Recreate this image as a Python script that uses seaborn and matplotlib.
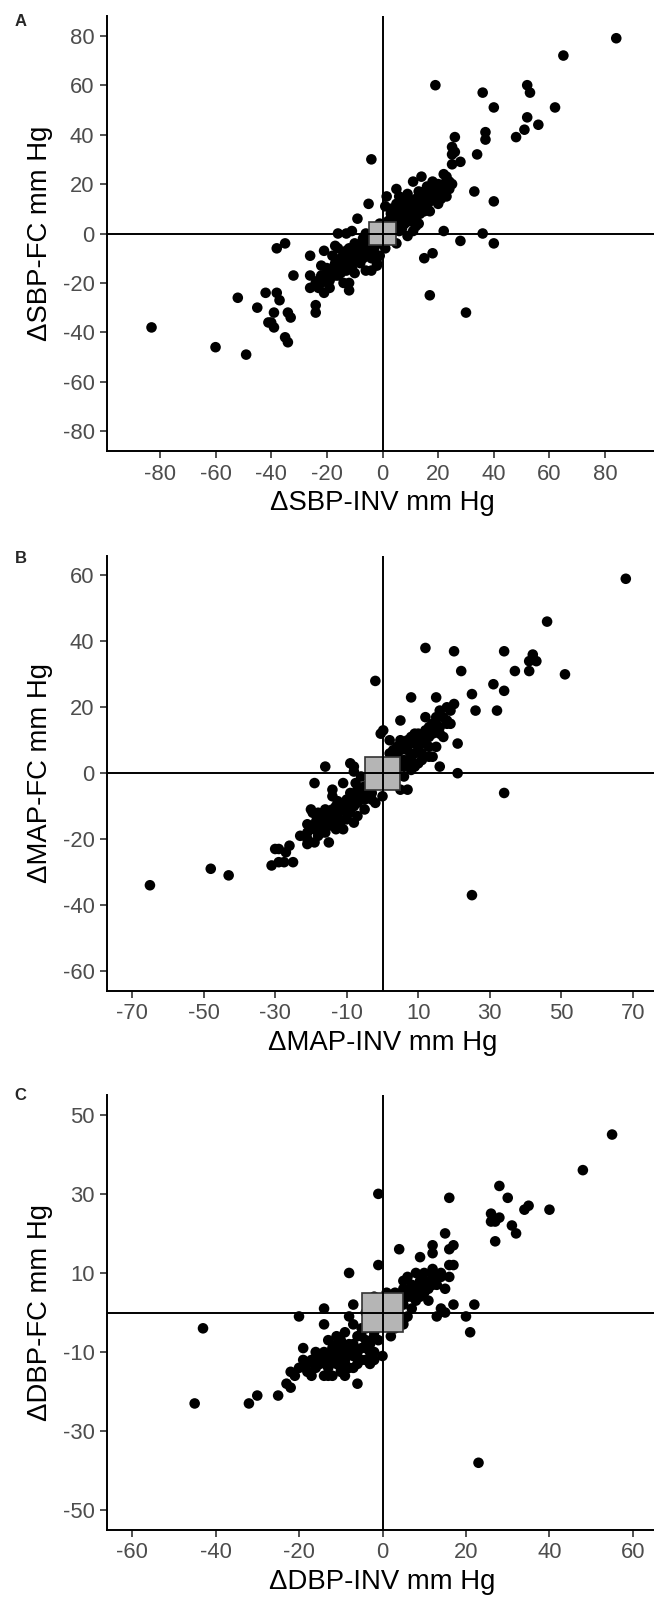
import numpy as np
import pandas as pd
import matplotlib
matplotlib.use("Agg")
import matplotlib.pyplot as plt
from matplotlib.patches import Rectangle
import seaborn as sns

# ---------------- data ----------------
sbp_inv = [84, 65, 19, 52, 53, 36, 40, 62, 52, 56, 51, 48, 37, 37, 26, 25, 26, 25, 34, -4, 28, 25, 22, 33, 40,
           22, 36, 40, 28, 18, 15, 17, 30, -5, -9, -16, -38, -35, -26, -21, -32, -26, -26, -22, -21, -24, -24,
           -14, -12, -12, -52, -42, -38, -37, -45, -39, -34, -33, -41, -39, -40, -35, -34, -83, -60, -49,
           14, 11, 18, 22, 23, 5, 1.5, 9, 13, 16, 19.5, 16.5, 12, 5, 1, 10, 6, 4, 13.5, 12, 9, 5, 1, -11, -13,
           -7, -6, -17, -13, -10, -9, -6, -4, -2, -6, -14, -16, -20, -20, -23, -19, -13, -2,
           2, 3, 6, 7, 8, 9, 10, 11, 12, 14, 15, 16, 17, 18, 19, 20, 21, 20, 23, 24, 15, 12, 10, 7, 6, 3, 4, 7,
           -1, -3, -4, -8, -9, -11, -12, -14, -15, -16, -18, -17, -19, -21, -22, -18, -15, -11, -8, -7, -5, -3,
           -10, -4, 13, 16, 17, 21, 25, 23, 5, 8, 3, 2, -1,
           0, 1, 3, 5, 6, 8, 9, 10, 11, 13, 14, 15, 17, 18, 19, 20, 21, 22, 24, -2, -3, -5, -6, -7, -8, -9,
           -10, -11, -12, -13, -14, -15, -16, -17, -18, -19, -20, -22, -23, -24, -4, -1, 2, 6, 11, 8]
sbp_fc = [79, 72, 60, 60, 57, 57, 51, 51, 47, 44, 42, 39, 41, 38, 39, 35, 33, 32, 32, 30, 29, 28, 24, 17, 13,
          1, 0, -4, -3, -8, -10, -25, -32, 12, 6, 0, -6, -4, -9, -7, -17, -17, -22, -13, -24, -29, -32,
          -20, -23, -20, -26, -24, -24, -27, -30, -32, -32, -34, -36, -38, -36, -42, -44, -38, -46, -49,
          23, 21, 21, 20, 18, 18, 15, 16, 17, 19, 14, 13, 14, 12, 11, 10, 8, 10, 8, 3, -1, -4, -6, 1, 0,
          -2, 0, -5, -7, -4, -8, -8, -10, -12, -15, -11, -14, -14, -19, -19, -22, -13, -13,
          5, 3, 4, 6, 9, 7, 5, 8, 11, 11, 9, 15, 16, 17, 18, 16, 19, 12, 15, 21, 17, 7, 13, 12, 15, 8, 1, 2,
          4, 2, -3, -5, -11, -9, -6, -8, -10, -6, -9, -12, -15, -17, -20, -17, -16, -14, -12, -10, -6, -8,
          -16, -15, 4, 11, 9, 14, 20, 23, 7, 13, 10, -2, -4,
          3, 2, 6, 3, 9, 4, 11, 9, 13, 12, 15, 14, 13, 14, 16, 20, 17, 18, 18, -4, -6, -3, -4, -7, -9, -7,
          -11, -12, -10, -15, -13, -14, -17, -17, -14, -19, -17, -17, -22, -20, -9, -9, -1, 1, 1, 6]

map_inv = [68, 46, 12, 20, 34, 42, 41, 43, 41, 37, 22, 51, 31, 34, 25, -2, 8, 15, 26, 32, 20, 18, 16, 5, 15,
           12, 19, 18, 14, 14, 15, 12, 13, 16, 21, 15, 14, 13, 16, 21, 34, 25, -0.5, 0.2, 2, 5, 3, 9, 10, 9,
           7, 10, 11, 8, 10, 8, 7, 5, 0, -2, -5, -16, -19, -8, -9, -8, -14, -14, -11, -7.5, -7, -8, -9.5,
           -11, -12.5, -14, -16, -16.5, -20, -19.5, -18.5, -21, -18, -14, -13, -11, -16, -21, -21, -21, -15,
           -11.5, -12.5, -30, -29, -27, -26, -31, -29, -27.5, -25, -48, -43, -65,
           -10, -9, -6, -4, -3, -6, -12, -13, -10, -17, -15, -19, -5, -3, -1, 2, 4, 6, 6, 7, 11, 12, 13, 11,
           9, 4, 3, 6, 17, 18, 17, 19, -7, -8, -10, -18, -23, -16,
           -4, -5, -6, -7, -8, -9, -10, -11, -12, -13, -14, -15, -16, -17, -18, -19, -20, 2, 4, 5, 7, 8, 9,
           10, 11, 12, 13, 14, 15, 16, 8, 6, -3]
map_fc = [59, 46, 38, 37, 37, 36, 34, 34, 31, 31, 31, 30, 27, 25, 24, 28, 23, 23, 19, 19, 21, 20, 19, 16, 17,
          17, 15, 15, 15, 14, 13, 13, 11, 12, 9, 8, 5, 5, 2, 0, -6, -37, 12, 13, 10, 10, 7, 12, 10, 9,
          7, 7, 6, 5, 3, 1, -5, -5, -7, -9, -11, 2, -3, 2, 3, 0.5, -5, -7, -3, -3, -5, -7, -8.5,
          -9.5, -8.5, -11, -11, -13.5, -11, -12, -14.5, -15.5, -16, -15, -17, -17, -18, -18, -20, -21.5, -21,
          -14.5, -12.5, -23, -23, -24, -22, -28, -27, -27, -27, -29, -31, -34,
          -10, -6, -6, -4, -2, -1, -11, -10, -12, -15, -13, -17, -8, -6, -3, 3, 5, 4, 8, 10, 11, 9, 8, 4,
          2, 0, -3, -1, 17, 16, 11, 19, -13, -15, -14, -19, -19, -16,
          -6, -4, -8, -9, -10, -12, -8, -11, -15, -13, -16, -15, -14, -18, -12, -21, -16, 6, 8, 7, 9, 11, 6,
          12, 9, 12, 14, 12, 15, 14, 3, 2, -8]

dbp_inv = [55, 48, 28, 30, 16, -1, 35, 34, 40, 26, 26, 28, 27, 31, 32, 27, 15, 4, 12, 12, 17, 16, 9, 16, 17,
           -1, -8, 12, 12, 16, 6, 8, 10, 15, 9, 11, 7, 17, 22, 14, 15, 13, 20, 21, 23, -7, -14, -20, -14,
           -43, -45, -32, -30, -25, -23, -22, -22, -21, -19, -18, -18, -17, -14, -12, -9, -6, -6, -6, -4, 0,
           2, 5, -2, -3, -9, -10, -12, -15, -14, -16, -13, -11, -9, -11, -8, -5, -4, -7, -8,
           2, 3, 5, 6, 4, 8, 10, 11, 13, 7, 6, -1, -3, -2, -5, -7, -10, -13, -16, -12, -8, -3, -1, 3, 9,
           14, 5, 1, -2, -4,
           -2, -4, -5, -6, -7, -8, -9, -10, -11, -12, -13, -14, -15, -16, -17, -11, -9, -7, -5, -4, 5, 6, 7,
           8, 9, 10, 11, 12, 13, 14, 3, 5, -3, -2, -10, -13, -19, -20]
dbp_fc = [45, 36, 32, 29, 29, 30, 27, 26, 26, 25, 23, 24, 23, 22, 20, 18, 20, 16, 17, 15, 17, 16, 14, 12, 12,
          12, 10, 11, 9, 9, 9, 10, 10, 6, 4, 6, 7, 2, 2, 1, 0, -1, -1, -5, -38, 2, 1, -1, -3,
          -4, -23, -23, -21, -21, -18, -19, -15, -16, -9, -13, -15, -16, -16, -16, -16, -18, -13, -10, -12, -11,
          -6, -3, -10, -8, -13, -10, -9, -11, -12, -10, -7, -6, -5, -8, -8, -6, -4, -3, -1,
          3, 5, 6, 4, 2, 6, 8, 3, 7, 1, -1, -2, -1, -5, -9, -11, -14, -14, -13, -12, -14, -13, -7, -4, 8,
          9, 8, 5, 4, 0,
          -6, -7, -4, -6, -8, -10, -9, -7, -11, -10, -11, -10, -13, -14, -12, -13, -12, -14, -12, -9, 2, 5, 4,
          3, 6, 5, 7, 7, 9, 10, -2, -2, -10, -12, -15, -16, -12, -14]

panels = ["A", "B", "C"]
x_titles = ["\u0394SBP-INV mm Hg", "\u0394MAP-INV mm Hg", "\u0394DBP-INV mm Hg"]
y_titles = ["\u0394SBP-FC mm Hg", "\u0394MAP-FC mm Hg", "\u0394DBP-FC mm Hg"]
x_ticks = [[-80, -60, -40, -20, 0, 20, 40, 60, 80],
           [-70, -50, -30, -10, 10, 30, 50, 70],
           [-60, -40, -20, 0, 20, 40, 60]]
y_ticks = [[-80, -60, -40, -20, 0, 20, 40, 60, 80],
           [-60, -40, -20, 0, 20, 40, 60],
           [-50, -30, -10, 10, 30, 50]]
x_limits = [(-99, 99), (-77, 77), (-66, 66)]
y_limits = [(-88, 88), (-66, 66), (-55, 55)]
box_half = [4.7, 5, 5]

data = [(sbp_inv, sbp_fc), (map_inv, map_fc), (dbp_inv, dbp_fc)]

# ---------------- style ----------------
sns.set_theme(style="ticks")
plt.rcParams["font.family"] = ["Liberation Sans", "DejaVu Sans"]

W, H = 654, 1603
fig = plt.figure(figsize=(W / 100, H / 100), dpi=100)

left_px, width_px, height_px = 107, 551, 435
bottoms_px = [451, 990.7, 1530]
letter_y_px = [21, 558, 1095]

for i in range(3):
    ax = fig.add_axes([left_px / W, 1 - bottoms_px[i] / H, width_px / W, height_px / H])
    xs, ys = data[i]
    df = pd.DataFrame({"x": xs, "y": ys})
    ax.axvline(0, color="black", lw=1.4, zorder=4)
    ax.axhline(0, color="black", lw=1.4, zorder=4)
    sns.scatterplot(data=df, x="x", y="y", ax=ax, color="black", s=58,
                    edgecolor="none", linewidth=0, zorder=2, legend=False)
    h = box_half[i]
    ax.add_patch(Rectangle((-h, -h), 2 * h, 2 * h, facecolor="#b5b5b5",
                           edgecolor="#333333", lw=1.2, zorder=3))
    ax.set_xlim(*x_limits[i])
    ax.set_ylim(*y_limits[i])
    ax.set_xticks(x_ticks[i])
    ax.set_yticks(y_ticks[i])
    ax.set_xticklabels([str(t) for t in x_ticks[i]])
    ax.set_yticklabels([str(t) for t in y_ticks[i]])
    for s in ["top", "right"]:
        ax.spines[s].set_visible(False)
    for s in ["left", "bottom"]:
        ax.spines[s].set_color("black")
        ax.spines[s].set_linewidth(1.4)
    ax.tick_params(axis="both", direction="out", length=5, width=1.2,
                   color="#333333", labelcolor="#4d4d4d", labelsize=15.8, pad=4)
    ax.set_xlabel(x_titles[i], fontsize=19.8, color="black", labelpad=4)
    ax.set_ylabel(y_titles[i], fontsize=19.8, color="black", labelpad=7)
    ax.set_facecolor("white")
    fig.text(14.5 / W, 1 - letter_y_px[i] / H, panels[i], fontsize=12,
             fontweight="bold", ha="left", va="center")

fig.savefig("out.png", dpi=100, facecolor="white")
